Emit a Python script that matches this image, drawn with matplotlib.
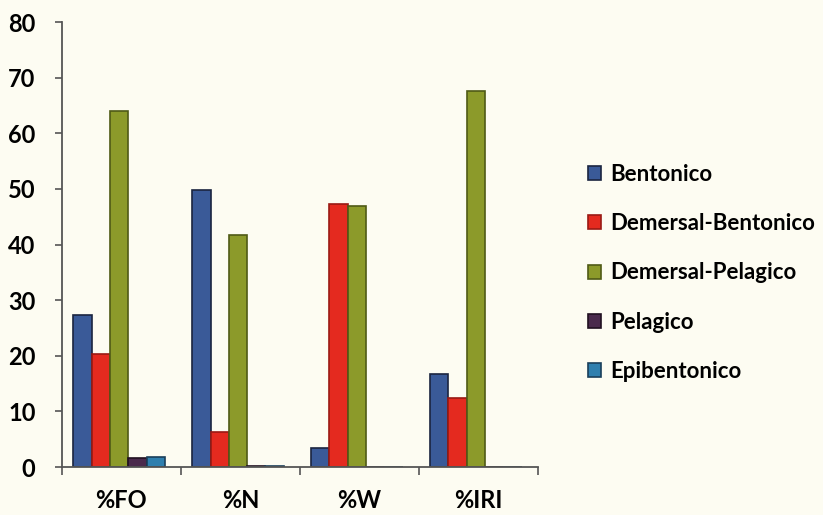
import matplotlib
matplotlib.use("Agg")
import matplotlib.pyplot as plt
import numpy as np

categories = ["%FO", "%N", "%W", "%IRI"]
series_names = ["Bentonico", "Demersal-Bentonico", "Demersal-Pelagico", "Pelagico", "Epibentonico"]
bentonico = [27.3, 49.8, 3.4, 16.7]
demersal_bentonico = [20.3, 6.3, 47.3, 12.4]
demersal_pelagico = [64.0, 41.7, 46.9, 67.6]
pelagico = [1.6, 0.2, 0.0, 0.0]
epibentonico = [1.8, 0.1, 0.0, 0.0]
yticks = [0, 10, 20, 30, 40, 50, 60, 70, 80]

values = [bentonico, demersal_bentonico, demersal_pelagico, pelagico, epibentonico]
colors = ["#3a5a98", "#e42a1f", "#8c9a2a", "#4a2a4c", "#2f7fae"]
edges = ["#1b2540", "#9a1a14", "#4f5a16", "#201020", "#1a3f5a"]

plt.rcParams['font.family'] = ['Lato', 'DejaVu Sans']
bg = "#fdfcf2"
fig = plt.figure(figsize=(8.23, 5.15), dpi=100, facecolor=bg)
ax = fig.add_axes([0.0753, 0.0932, 0.578, 0.864], facecolor=bg)

x = np.arange(len(categories))
n = len(values)
w = 0.154
for i, (vals, c, e, name) in enumerate(zip(values, colors, edges, series_names)):
    ax.bar(x + (i - (n - 1) / 2) * w - 0.02, vals, width=w, color=c,
           edgecolor=e, linewidth=1.2, label=name)

ax.set_xlim(-0.5, len(categories) - 0.5)
ax.set_ylim(0, 80)
ax.set_yticks(yticks)
ax.set_yticklabels([str(t) for t in yticks], fontsize=17, fontweight='bold')
ax.set_xticks(x)
ax.set_xticklabels(categories, fontsize=17, fontweight='bold')
ax.tick_params(axis='x', length=0, pad=16)
ax.set_xticks(np.arange(len(categories) + 1) - 0.5, minor=True)
ax.tick_params(axis='x', which='minor', length=6, width=1.2, color="#555555")
ax.tick_params(axis='y', length=5, width=1.2, color="#555555", pad=14)

for s in ["top", "right"]:
    ax.spines[s].set_visible(False)
for s in ["left", "bottom"]:
    ax.spines[s].set_color("#555555")
    ax.spines[s].set_linewidth(1.3)

leg = fig.legend(loc="center left", bbox_to_anchor=(0.69, 0.47), frameon=False,
                 prop={'size': 16, 'weight': 'bold'}, handlelength=0.6,
                 handleheight=0.6, handletextpad=0.4, labelspacing=1.27)

fig.savefig("out.png", dpi=100, facecolor=bg)
